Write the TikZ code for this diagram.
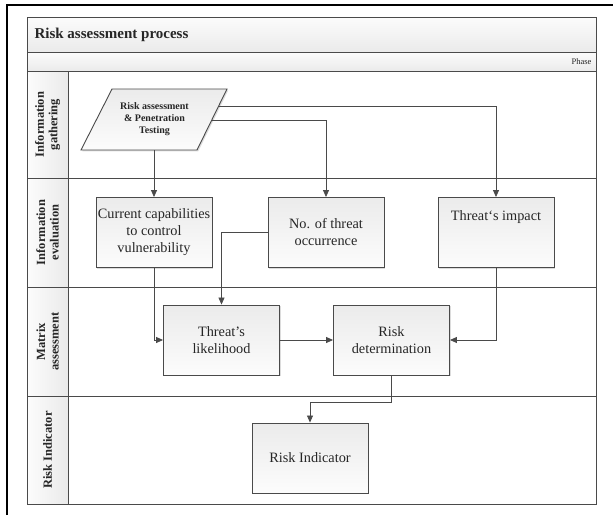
\documentclass[tikz,border=0pt]{standalone}
\usepackage{fontspec}
\setmainfont{Liberation Serif}
\usepackage{xcolor}
\usetikzlibrary{calc,arrows.meta,shadows}
\definecolor{ink}{HTML}{262626}
\definecolor{wire}{HTML}{4A4A4A}
\definecolor{boxtop}{HTML}{EBEBEB}
\definecolor{boxbot}{HTML}{FCFCFC}
\definecolor{bartop}{HTML}{FCFCFC}
\definecolor{barbot}{HTML}{EAEAEA}
\tikzset{
  frame/.style={draw=wire, line width=0.9pt},
  bar/.style={frame, top color=bartop, bottom color=barbot},
  headcell/.style={frame, left color=bartop, right color=barbot},
  lanehead/.style={rotate=90, align=center, text=ink, font=\fontsize{12.5}{13.5}\selectfont\bfseries},
  boxshade/.style={draw=wire, line width=0.9pt, top color=boxtop, bottom color=boxbot,
    drop shadow={shadow xshift=1.3pt, shadow yshift=-1.3pt, fill=black!30, opacity=0.45}},
  proc/.style={boxshade, minimum width=116pt, minimum height=70pt, inner sep=1pt, align=center, text=ink,
    font=\fontsize{14.3}{17}\selectfont},
  intext/.style={align=center, text=ink, inner sep=0pt, font=\fontsize{10}{12}\selectfont\bfseries},
  flow/.style={draw=wire, line width=0.8pt, -{Triangle[length=7pt,width=6pt]}}
}

\begin{document}
\begin{tikzpicture}[x=1pt,y=-1pt]
  \useasboundingbox (0,0) rectangle (613,515);

  % outer frame, cut off at right and bottom
  \draw[line width=2pt, black] (7,515) -- (7,5) -- (613,5);

  % title and phase bars
  \draw[bar] (27,17) rectangle (596,52);
  \node[anchor=west, text=ink, font=\fontsize{15}{17}\selectfont\bfseries] (title) at (31,35) {Risk assessment process};
  \draw[bar] (27,52) rectangle (596,71);
  \node[anchor=east, text=ink, font=\fontsize{8.5}{10}\selectfont] (phase) at (595,62) {Phase};

  % lanes
  \foreach \ytop/\ybot/\lname/\ltext in {71/178/hdA/{Information\\gathering},
      178/287/hdB/{Information\\evaluation},
      287/396/hdC/{Matrix\\assessment},
      396/504/hdD/{Risk Indicator}} {
    \draw[frame] (27,\ytop) rectangle (596,\ybot);
    \draw[headcell] (27,\ytop) rectangle (68,\ybot);
    \node[lanehead] (\lname) at (47.5,{(\ytop+\ybot)/2}) {\ltext};
  }

  % input parallelogram
  \coordinate (raptc) at (154.5,119.5);
  \draw[boxshade] ($(raptc)+(-42.5,-30.5)$) -- ($(raptc)+(72.5,-30.5)$)
    -- ($(raptc)+(42.5,30.5)$) -- ($(raptc)+(-73.5,30.5)$) -- cycle;
  \node[intext] (rapt) at (raptc) {Risk assessment\\\& Penetration\\Testing};
  \coordinate (raptS) at (154,150);
  \coordinate (raptA) at (218.6,106);
  \coordinate (raptB) at (211.8,120);

  % steps
  \node[proc] (cap) at (154,232.5) {Current capabilities\\to control\\vulnerability};
  \node[proc] (occ) at (326,232.5) {No. of threat\\occurrence};
  \node[proc] (imp) at (496,232.5) {Threat‘s impact\\[17pt]};
  \node[proc] (lik) at (221.5,340) {Threat’s\\likelihood};
  \node[proc] (det) at (391.5,340) {Risk\\determination};
  \node[proc] (ind) at (310,458) {Risk Indicator};
  \coordinate (detbend) at ($(det.south)+(0,27)$);

  % connectors
  \draw[flow] (raptS) -- (cap.north);
  \draw[flow] (raptB) -| (occ.north);
  \draw[flow] (raptA) -| (imp.north);
  \draw[flow] (occ.west) -| (lik.north);
  \draw[flow] (cap.south) |- (lik.west);
  \draw[flow] (lik.east) -- (det.west);
  \draw[flow] (imp.south) |- (det.east);
  \draw[flow] (det.south) -- (detbend) -| (ind.north);
\end{tikzpicture}
\end{document}
